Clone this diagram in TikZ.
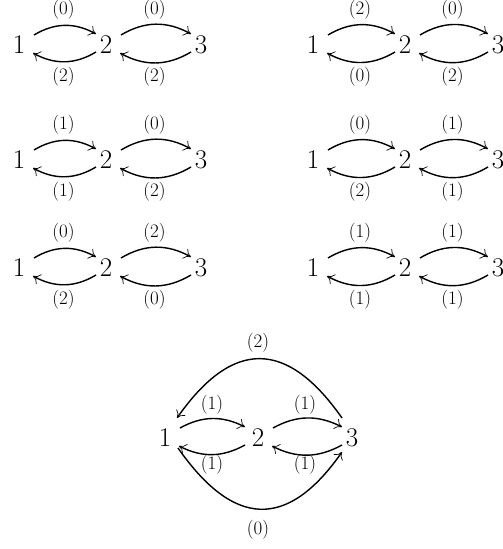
\documentclass[tikz,border=0pt]{standalone}
\usetikzlibrary{arrows.meta,calc}
\newcommand\mypanel[9]{%
  \node[num] (#5a) at (#1,#4) {1};
  \node[num] (#5b) at (#2,#4) {2};
  \node[num] (#5c) at (#3,#4) {3};
  \draw[arr] ([shift={(15pt,10pt)}]#5a.center) to[bend left=30] ([shift={(-10pt,11pt)}]#5b.center);
  \draw[arr] ([shift={(-10pt,-7pt)}]#5b.center) to[bend left=30] ([shift={(14pt,-8pt)}]#5a.center);
  \draw[arr] ([shift={(15pt,10pt)}]#5b.center) to[bend left=30] ([shift={(-10pt,11pt)}]#5c.center);
  \draw[arr] ([shift={(-10pt,-7pt)}]#5c.center) to[bend left=30] ([shift={(14pt,-8pt)}]#5b.center);
  \node[lab] (#5t1) at ($(#5a)!0.5!(#5b)+(1,-35)$) {(#6)};
  \node[lab] (#5b1) at ($(#5a)!0.5!(#5b)+(1,32)$) {(#7)};
  \node[lab] (#5t2) at ($(#5b)!0.5!(#5c)+(1,-35)$) {(#8)};
  \node[lab] (#5b2) at ($(#5b)!0.5!(#5c)+(1,32)$) {(#9)};
}
\begin{document}
\begin{tikzpicture}[x=1pt,y=-1pt,
  num/.style={font=\fontsize{27}{30}\selectfont, inner sep=0pt},
  lab/.style={font=\fontsize{19}{22}\selectfont, inner sep=0pt},
  arr/.style={line width=1.4pt, -{Computer Modern Rightarrow[length=7pt,width=11pt,line width=0.7pt]}},
]
\useasboundingbox (0,0) rectangle (503,549);
\mypanel{19}{106}{201}{45}{pa}{0}{2}{0}{2}
\mypanel{313}{405}{498}{45}{pb}{2}{0}{0}{2}
\mypanel{19}{106}{201}{160}{pc}{1}{1}{0}{2}
\mypanel{313}{405}{498}{160}{pd}{0}{2}{1}{1}
\mypanel{19}{106}{201}{268}{pe}{0}{2}{2}{0}
\mypanel{313}{405}{498}{268}{pf}{1}{1}{1}{1}
% bottom diagram
\node[num] (q1) at (165,438) {1};
\node[num] (q2) at (258,438) {2};
\node[num] (q3) at (352,438) {3};
\draw[arr] ([shift={(15pt,10pt)}]q1.center) to[bend left=28] ([shift={(-13pt,11pt)}]q2.center);
\draw[arr] ([shift={(-13pt,-7pt)}]q2.center) to[bend left=28] ([shift={(14pt,-8pt)}]q1.center);
\draw[arr] ([shift={(15pt,10pt)}]q2.center) to[bend left=28] ([shift={(-10pt,11pt)}]q3.center);
\draw[arr] ([shift={(-10pt,-7pt)}]q3.center) to[bend left=28] ([shift={(14pt,-8pt)}]q2.center);
\draw[arr] ([shift={(-10pt,20pt)}]q3.center) to[out=125,in=55,looseness=1.5] ([shift={(12pt,20pt)}]q1.center);
\draw[arr] ([shift={(13pt,-10pt)}]q1.center) to[out=-55,in=-125,looseness=1.5] ([shift={(-10pt,-14pt)}]q3.center);
\node[lab] (ql1) at (212,405) {(1)};
\node[lab] (ql2) at (305,405) {(1)};
\node[lab] (ql3) at (212,465) {(1)};
\node[lab] (ql4) at (305,465) {(1)};
\node[lab] (ql5) at (258,343) {(2)};
\node[lab] (ql6) at (258,530) {(0)};
\end{tikzpicture}
\end{document}
